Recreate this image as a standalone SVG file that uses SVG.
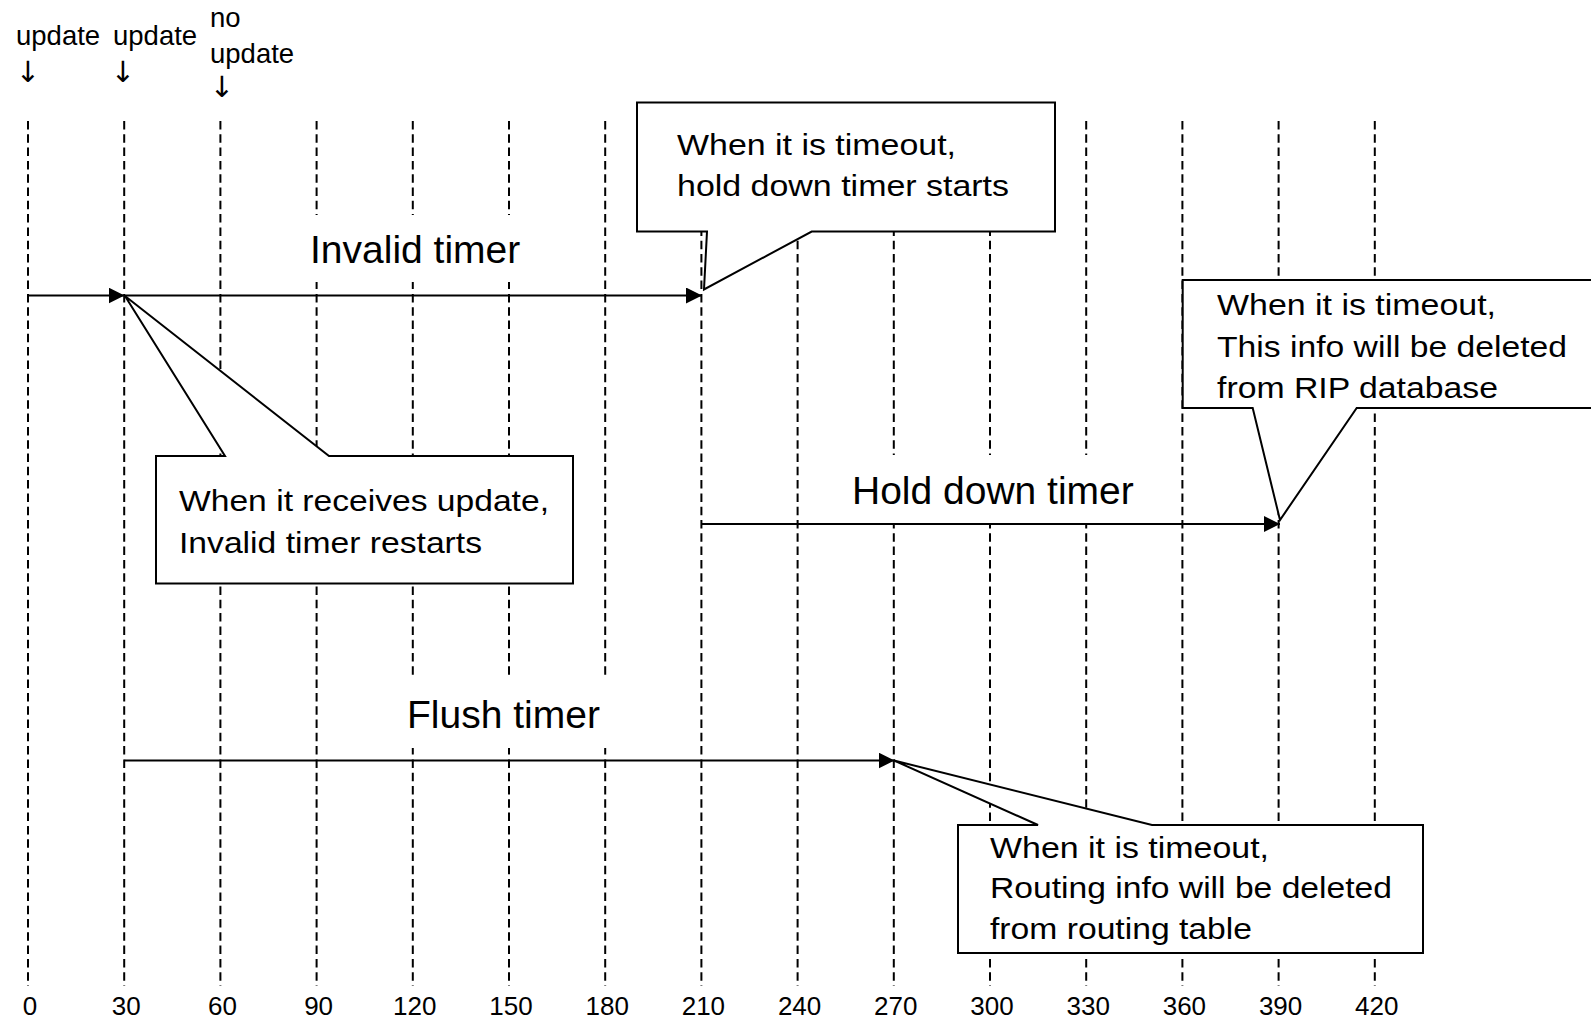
<svg xmlns="http://www.w3.org/2000/svg" width="1591" height="1020" viewBox="0 0 1591 1020">
<style>
text{font-family:"Liberation Sans",Arial,sans-serif;fill:#000}
.grid{stroke:#000;stroke-width:2;stroke-dasharray:8.5 4.8;fill:none}
.lbl{font-size:39px}
.co{font-size:30px}
.top{font-size:27.5px}
.dn{font-family:"DejaVu Sans",sans-serif;font-size:29px;text-anchor:middle}
.ax{font-size:26px;text-anchor:middle}
.box{fill:#fff;stroke:#000;stroke-width:2}
.arr{stroke:#000;stroke-width:2;fill:none;marker-end:url(#ah)}
.mask{fill:#fff;stroke:none}
</style>
<defs>
<marker id="ah" markerUnits="userSpaceOnUse" markerWidth="17" markerHeight="17" refX="16" refY="8" orient="auto">
<path d="M0,0 L16,8 L0,16 Z" fill="#000"/>
</marker>
</defs>
<rect width="1591" height="1020" fill="#fff"/>
<g id="grid">
<line class="grid" x1="28" y1="121" x2="28" y2="986"/>
<line class="grid" x1="124.2" y1="121" x2="124.2" y2="986"/>
<line class="grid" x1="220.4" y1="121" x2="220.4" y2="986"/>
<line class="grid" x1="316.6" y1="121" x2="316.6" y2="986"/>
<line class="grid" x1="412.8" y1="121" x2="412.8" y2="986"/>
<line class="grid" x1="509" y1="121" x2="509" y2="986"/>
<line class="grid" x1="605.2" y1="121" x2="605.2" y2="986"/>
<line class="grid" x1="701.4" y1="121" x2="701.4" y2="986"/>
<line class="grid" x1="797.6" y1="121" x2="797.6" y2="986"/>
<line class="grid" x1="893.8" y1="121" x2="893.8" y2="986"/>
<line class="grid" x1="990" y1="121" x2="990" y2="986"/>
<line class="grid" x1="1086.2" y1="121" x2="1086.2" y2="986"/>
<line class="grid" x1="1182.4" y1="121" x2="1182.4" y2="986"/>
<line class="grid" x1="1278.6" y1="121" x2="1278.6" y2="986"/>
<line class="grid" x1="1374.8" y1="121" x2="1374.8" y2="986"/>
</g>
<g id="axis-labels">
<text class="ax" x="30" y="1015">0</text>
<text class="ax" x="126.2" y="1015">30</text>
<text class="ax" x="222.4" y="1015">60</text>
<text class="ax" x="318.6" y="1015">90</text>
<text class="ax" x="414.8" y="1015">120</text>
<text class="ax" x="511" y="1015">150</text>
<text class="ax" x="607.2" y="1015">180</text>
<text class="ax" x="703.4" y="1015">210</text>
<text class="ax" x="799.6" y="1015">240</text>
<text class="ax" x="895.8" y="1015">270</text>
<text class="ax" x="992" y="1015">300</text>
<text class="ax" x="1088.2" y="1015">330</text>
<text class="ax" x="1184.4" y="1015">360</text>
<text class="ax" x="1280.6" y="1015">390</text>
<text class="ax" x="1376.8" y="1015">420</text>
</g>
<g id="top-labels">
<text class="top" x="16" y="45">update</text>
<text class="top" x="113" y="45">update</text>
<text class="top" x="210" y="27">no</text>
<text class="top" x="210" y="63">update</text>
<text class="dn" x="28" y="82">↓</text>
<text class="dn" x="123" y="82">↓</text>
<text class="dn" x="222" y="97">↓</text>
</g>
<g id="label-masks">
<rect class="mask" x="300" y="215" width="295" height="67"/>
<rect class="mask" x="830" y="455" width="327" height="68"/>
<rect class="mask" x="340" y="677" width="340" height="71"/>
</g>
<g id="connectors">
<line class="arr" x1="28" y1="295.5" x2="124.5" y2="295.5"/>
<line class="arr" x1="124.5" y1="295.5" x2="702" y2="295.5"/>
<line class="arr" x1="702" y1="524" x2="1280" y2="524"/>
<line class="arr" x1="124.5" y1="760.5" x2="894.5" y2="760.5"/>
</g>
<g id="invalid-timer-label"><text class="lbl" x="310" y="263">Invalid timer</text></g>
<g id="hold-down-timer-label"><text class="lbl" x="852" y="503.5">Hold down timer</text></g>
<g id="flush-timer-label"><text class="lbl" x="407" y="728">Flush timer</text></g>
<g id="callout-holddown-starts">
<path class="box" d="M637,102.5 H1055 V231.5 H811.7 L704,289.5 L707,231.5 H637 Z"/>
<text class="co" x="677" y="155" textLength="279" lengthAdjust="spacingAndGlyphs">When it is timeout,</text>
<text class="co" x="677" y="196" textLength="332" lengthAdjust="spacingAndGlyphs">hold down timer starts</text>
</g>
<g id="callout-invalid-restarts">
<path class="box" d="M156,456 H225 L125,296 L329,456 H573 V583.5 H156 Z"/>
<text class="co" x="179" y="511" textLength="370" lengthAdjust="spacingAndGlyphs">When it receives update,</text>
<text class="co" x="179" y="553" textLength="303" lengthAdjust="spacingAndGlyphs">Invalid timer restarts</text>
</g>
<g id="callout-rip-database">
<path class="box" d="M1182.7,280 H1600 V408 H1356.7 L1280,520 L1252.7,408 H1182.7 Z"/>
<text class="co" x="1217" y="315" textLength="279" lengthAdjust="spacingAndGlyphs">When it is timeout,</text>
<text class="co" x="1217" y="356.5" textLength="350" lengthAdjust="spacingAndGlyphs">This info will be deleted</text>
<text class="co" x="1217" y="397.5" textLength="281" lengthAdjust="spacingAndGlyphs">from RIP database</text>
</g>
<g id="callout-routing-table">
<path class="box" d="M958,825 H1038 L894,760.5 L1152,825 H1423 V953 H958 Z"/>
<text class="co" x="990" y="857.5" textLength="279" lengthAdjust="spacingAndGlyphs">When it is timeout,</text>
<text class="co" x="990" y="898" textLength="402" lengthAdjust="spacingAndGlyphs">Routing info will be deleted</text>
<text class="co" x="990" y="938.5" textLength="262" lengthAdjust="spacingAndGlyphs">from routing table</text>
</g>
</svg>
